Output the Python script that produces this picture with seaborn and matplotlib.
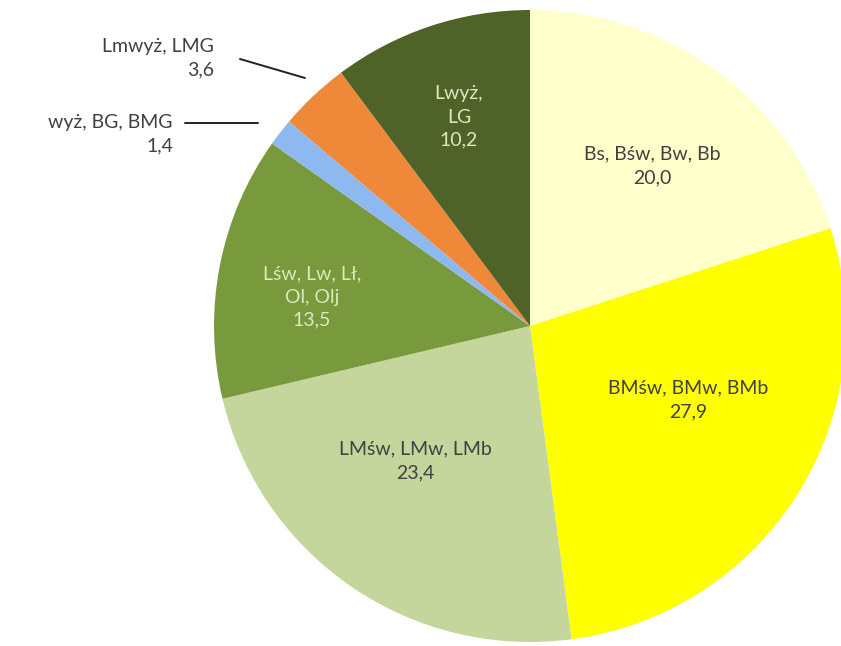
import matplotlib
matplotlib.use("Agg")
import matplotlib.pyplot as plt
import seaborn as sns

labels = ["Bs, Bśw, Bw, Bb", "BMśw, BMw, BMb", "LMśw, LMw, LMb",
          "Lśw, Lw, Lł,\nOl, Olj", "wyż, BG, BMG", "Lmwyż, LMG", "Lwyż,\nLG"]
values = [20.0, 27.9, 23.4, 13.5, 1.4, 3.6, 10.2]
colors = ["#FFFFCC", "#FFFF00", "#C4D69C", "#789A3C", "#8EB9F0", "#F0883A", "#4F6228"]
text_colors = ["#404040", "#404040", "#404040", "#DCE8C0", None, None, "#DCE8C0"]

sns.set_theme(style="white")
plt.rcParams['font.family'] = ['Lato', 'DejaVu Sans']

W, H = 841, 646
cx, cy, R = 530, 326, 316
fig = plt.figure(figsize=(W / 100, H / 100), dpi=100)
ax = fig.add_axes([0, 0, 1, 1])

def px(x, y):
    return ((x - cx) / R, (cy - y) / R)

ax.pie(values, colors=colors, startangle=90, counterclock=False,
       radius=1.0, center=(0, 0), wedgeprops=dict(linewidth=0))
ax.set_xlim(-cx / R, (W - cx) / R)
ax.set_ylim(-(H - cy) / R, cy / R)
ax.set_aspect('equal')
ax.axis('off')

fs = 14
ls = 1.45
def fmt(v):
    return f"{v:.1f}".replace(".", ",")

# inside labels (pixel centres)
inside = {0: (652, 166), 1: (688, 400), 2: (415, 461), 3: (312, 297), 6: (459, 117)}
for i, (x, y) in inside.items():
    dx, dy = px(x, y)
    ax.text(dx, dy, labels[i] + "\n" + fmt(values[i]), ha='center', va='center',
            color=text_colors[i], fontsize=fs, linespacing=ls)

# outside labels
x5, y5 = px(214, 58)
ax.text(x5, y5, labels[5] + "\n" + fmt(values[5]), ha='right', va='center',
        color="#404040", fontsize=fs, linespacing=ls, multialignment='right')
ax.plot([px(240, 59)[0], px(305, 78)[0]], [px(240, 59)[1], px(305, 78)[1]],
        color="#222222", lw=1.4)

x4, y4 = px(173, 134)
ax.text(x4, y4, labels[4] + "\n" + fmt(values[4]), ha='right', va='center',
        color="#404040", fontsize=fs, linespacing=ls, multialignment='right')
ax.plot([px(185, 123)[0], px(258, 123)[0]], [px(185, 123)[1], px(258, 123)[1]],
        color="#222222", lw=1.4)

fig.savefig("out.png", dpi=100, facecolor="white")
